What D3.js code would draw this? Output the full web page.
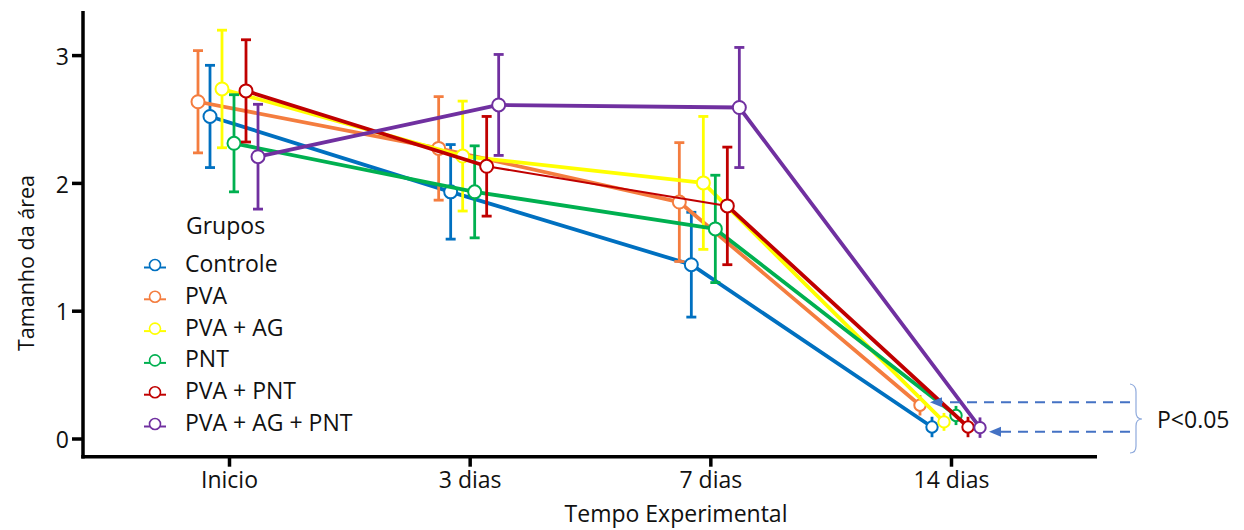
<!DOCTYPE html>
<html>
<head>
<meta charset="utf-8">
<script src="https://cdn.jsdelivr.net/npm/d3@7"></script>
<style>
  body { margin: 0; background: #fff; }
  svg { display: block; font-family: "Open Sans", sans-serif; }
</style>
</head>
<body>
<div id="chart"></div>
<script>
// categories on the x axis and the groups (legend order)
var categories = ["Inicio", "3 dias", "7 dias", "14 dias"];
var groups = ["Controle", "PVA", "PVA + AG", "PNT", "PVA + PNT", "PVA + AG + PNT"];
// left-to-right order of the points inside each category
var slotOrder = ["PVA", "Controle", "PVA + AG", "PNT", "PVA + PNT", "PVA + AG + PNT"];

// mean and error (one value per category)
var controleMean = [2.52, 1.93, 1.36, 0.09];
var controleErr  = [0.40, 0.37, 0.41, 0.08];
var pvaMean      = [2.635, 2.27, 1.85, 0.26];
var pvaErr       = [0.40, 0.405, 0.465, 0.08];
var pvaAgMean    = [2.735, 2.21, 2.00, 0.13];
var pvaAgErr     = [0.46, 0.43, 0.52, 0.07];
var pntMean      = [2.31, 1.93, 1.64, 0.18];
var pntErr       = [0.38, 0.36, 0.42, 0.075];
var pvaPntMean   = [2.72, 2.13, 1.82, 0.09];
var pvaPntErr    = [0.40, 0.39, 0.46, 0.08];
var pvaAgPntMean = [2.205, 2.61, 2.59, 0.085];
var pvaAgPntErr  = [0.41, 0.395, 0.47, 0.08];

var yTicks = [0, 1, 2, 3];
var pLabel = "P<0.05";

var colors = ["#0070C0", "#F47D3F", "#FFFF00", "#00B050", "#C00000", "#7030A0"];
var means = [controleMean, pvaMean, pvaAgMean, pntMean, pvaPntMean, pvaAgPntMean];
var errs = [controleErr, pvaErr, pvaAgErr, pntErr, pvaPntErr, pvaAgPntErr];

var width = 1244, height = 530;
var fontSize = 23;
var textColor = '#111';

var svg = d3.select('#chart')
  .append('svg')
  .attr('width', width)
  .attr('height', height);

var x = d3.scalePoint().domain(categories).range([229, 951]);
var slot = d3.scalePoint().domain(slotOrder).range([-31, 29]);
var y = d3.scaleLinear().domain([0, 3]).range([438.5, 55.1]);

var axisX0 = 83, axisY0 = 456.7;

// y axis
var yAxis = svg.append('g')
  .attr('transform', 'translate(' + axisX0 + ',0)')
  .call(d3.axisLeft(y).tickValues(yTicks).tickSize(11).tickPadding(3).tickFormat(d3.format('d')));
yAxis.select('.domain').remove();
yAxis.selectAll('line').attr('stroke', '#000').attr('stroke-width', 3.5);
yAxis.selectAll('text').attr('font-size', fontSize).attr('font-family', '"Open Sans", sans-serif')
  .attr('fill', textColor).attr('dy', '0.4em');

// x axis
var xAxis = svg.append('g')
  .attr('transform', 'translate(0,' + axisY0 + ')')
  .call(d3.axisBottom(x).tickSize(10).tickPadding(5));
xAxis.select('.domain').remove();
xAxis.selectAll('line').attr('stroke', '#000').attr('stroke-width', 3.5);
xAxis.selectAll('text').attr('font-size', fontSize).attr('font-family', '"Open Sans", sans-serif')
  .attr('fill', textColor);

// axis lines
svg.append('line')
  .attr('x1', axisX0).attr('x2', axisX0)
  .attr('y1', y(3.345)).attr('y2', axisY0 + 1.75)
  .style('stroke', '#000').style('stroke-width', 3.5);
svg.append('line')
  .attr('x1', axisX0 - 1.75).attr('x2', 1097)
  .attr('y1', axisY0).attr('y2', axisY0)
  .style('stroke', '#000').style('stroke-width', 3.5);

// axis titles
svg.append('text')
  .attr('transform', 'translate(34,263) rotate(-90)')
  .attr('text-anchor', 'middle')
  .attr('font-size', 21.5)
  .attr('fill', textColor)
  .text('Tamanho da área');
svg.append('text')
  .attr('x', 676).attr('y', 522)
  .attr('text-anchor', 'middle')
  .attr('font-size', fontSize)
  .attr('fill', textColor)
  .text('Tempo Experimental');

// series
var px = function(g, i){ return x(categories[i]) + slot(g); };

groups.forEach(function(g, gi){
  var color = colors[gi];
  var m = means[gi], e = errs[gi];
  var layer = svg.append('g').attr('class', 'series');

  // segments (the PVA + PNT line is thin between 3 and 7 dias)
  for (var i = 0; i < m.length - 1; i++) {
    var thin = (g === 'PVA + PNT' && i === 1);
    layer.append('line')
      .attr('x1', px(g, i)).attr('y1', y(m[i]))
      .attr('x2', px(g, i + 1)).attr('y2', y(m[i + 1]))
      .style('stroke', color)
      .style('stroke-width', thin ? 2 : 3.8)
      .style('stroke-linecap', 'round');
  }

  // error bars
  m.forEach(function(v, i){
    var cx = px(g, i);
    var cap = i === 3 ? 0 : 5;
    layer.append('line')
      .attr('x1', cx).attr('x2', cx)
      .attr('y1', y(v + e[i])).attr('y2', y(v - e[i]))
      .style('stroke', color).style('stroke-width', 2.8);
    if (cap) {
      [v + e[i], v - e[i]].forEach(function(w){
        layer.append('line')
          .attr('x1', cx - cap).attr('x2', cx + cap)
          .attr('y1', y(w)).attr('y2', y(w))
          .style('stroke', color).style('stroke-width', 2.8);
      });
    }
  });

  // points
  layer.selectAll('circle')
    .data(m)
    .enter()
    .append('circle')
    .attr('cx', function(d, i){ return px(g, i); })
    .attr('cy', function(d){ return y(d); })
    .attr('r', function(d, i){ return i === 3 ? 5.7 : 6.5; })
    .style('fill', 'white')
    .style('stroke', color)
    .style('stroke-width', 2);
});

// legend
var legend = svg.append('g');
legend.append('text')
  .attr('x', 186).attr('y', 234)
  .attr('font-size', fontSize)
  .attr('fill', textColor)
  .text('Grupos');
var rowY = d3.scalePoint().domain(groups).range([272, 431]);
groups.forEach(function(g, gi){
  var ty = rowY(g);
  legend.append('line')
    .attr('x1', 144).attr('x2', 166)
    .attr('y1', ty - 4.5).attr('y2', ty - 4.5)
    .style('stroke', colors[gi]).style('stroke-width', 2);
  legend.append('circle')
    .attr('cx', 155).attr('cy', ty - 7)
    .attr('r', 5.5)
    .style('fill', 'white')
    .style('stroke', colors[gi])
    .style('stroke-width', 1.6);
  legend.append('text')
    .attr('x', 185).attr('y', ty)
    .attr('font-size', fontSize)
    .attr('fill', textColor)
    .text(g);
});

// significance annotation
var note = svg.append('g');
var noteBlue = '#4472C4';

var upperY = y(pvaMean[3]) - 3, lowerY = y(pvaAgPntMean[3]) + 4;
[[upperY, px('PVA', 3) + 10], [lowerY, px('PVA + AG + PNT', 3) + 9]].forEach(function(a){
  note.append('line')
    .attr('x1', 1130).attr('x2', a[1] + 6)
    .attr('y1', a[0]).attr('y2', a[0])
    .style('stroke', noteBlue)
    .style('stroke-width', 2)
    .style('stroke-dasharray', '10,7');
  note.append('path')
    .attr('d', 'M' + a[1] + ',' + a[0] + ' l12,-5 l0,10 z')
    .style('fill', noteBlue);
});

note.append('path')
  .attr('d', 'M1130,384 Q1136,385 1136,392 L1136,412 Q1136,419 1142,419 Q1136,419 1136,426 L1136,446 Q1136,453 1130,453')
  .style('fill', 'none')
  .style('stroke', '#8FAADC')
  .style('stroke-width', 1.2);

note.append('text')
  .attr('x', 1157).attr('y', 428)
  .attr('font-size', fontSize)
  .attr('fill', textColor)
  .text(pLabel);
</script>
</body>
</html>
